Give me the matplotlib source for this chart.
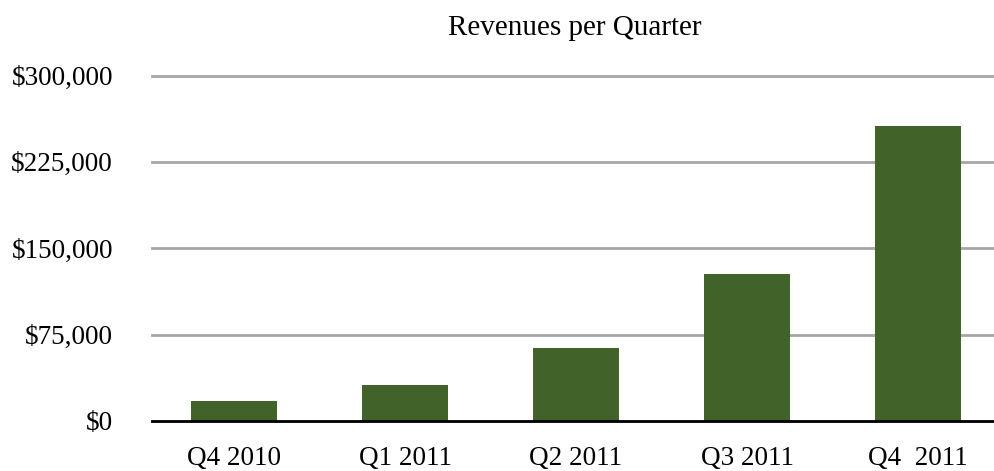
import matplotlib
matplotlib.use("Agg")
import matplotlib.pyplot as plt
from matplotlib.ticker import FuncFormatter

categories = ["Q4 2010", "Q1 2011", "Q2 2011", "Q3 2011", "Q4  2011"]
revenues = [17000, 31000, 63000, 127500, 256000]
yticks = [0, 75000, 150000, 225000, 300000]
title = "Revenues per Quarter"

plt.rcParams['font.family'] = ['Liberation Serif', 'DejaVu Serif']

fig = plt.figure(figsize=(9.94, 4.71), dpi=100)
ax = fig.add_axes([152/994, 1 - 421/471, 1 - 152/994, (421 - 75.5)/471])

x = list(range(len(categories)))
ax.bar(x, revenues, width=0.503, color="#416228", zorder=3)
ax.set_xlim(-0.4795, 4.444)
ax.set_ylim(0, 300000)
ax.set_yticks(yticks)
ax.yaxis.set_major_formatter(FuncFormatter(lambda v, p: "${:,.0f}".format(v)))
ax.set_xticks(x)
ax.set_xticklabels(categories)

ax.yaxis.grid(True, color="#A6A6A6", linewidth=2, zorder=0)
for ln in ax.get_ygridlines():
    ln.set_clip_on(False)
for s in ["top", "right", "left"]:
    ax.spines[s].set_visible(False)
ax.spines["bottom"].set_color("black")
ax.spines["bottom"].set_linewidth(2)
ax.spines["bottom"].set_zorder(4)

ax.tick_params(axis="both", length=0, labelsize=19.5, colors="black")
ax.tick_params(axis="y", pad=28)
ax.tick_params(axis="x", pad=18)

fig.text(575/994, 1 - 28/471, title, ha="center", va="center", fontsize=21)

fig.savefig("out.png", dpi=100)
